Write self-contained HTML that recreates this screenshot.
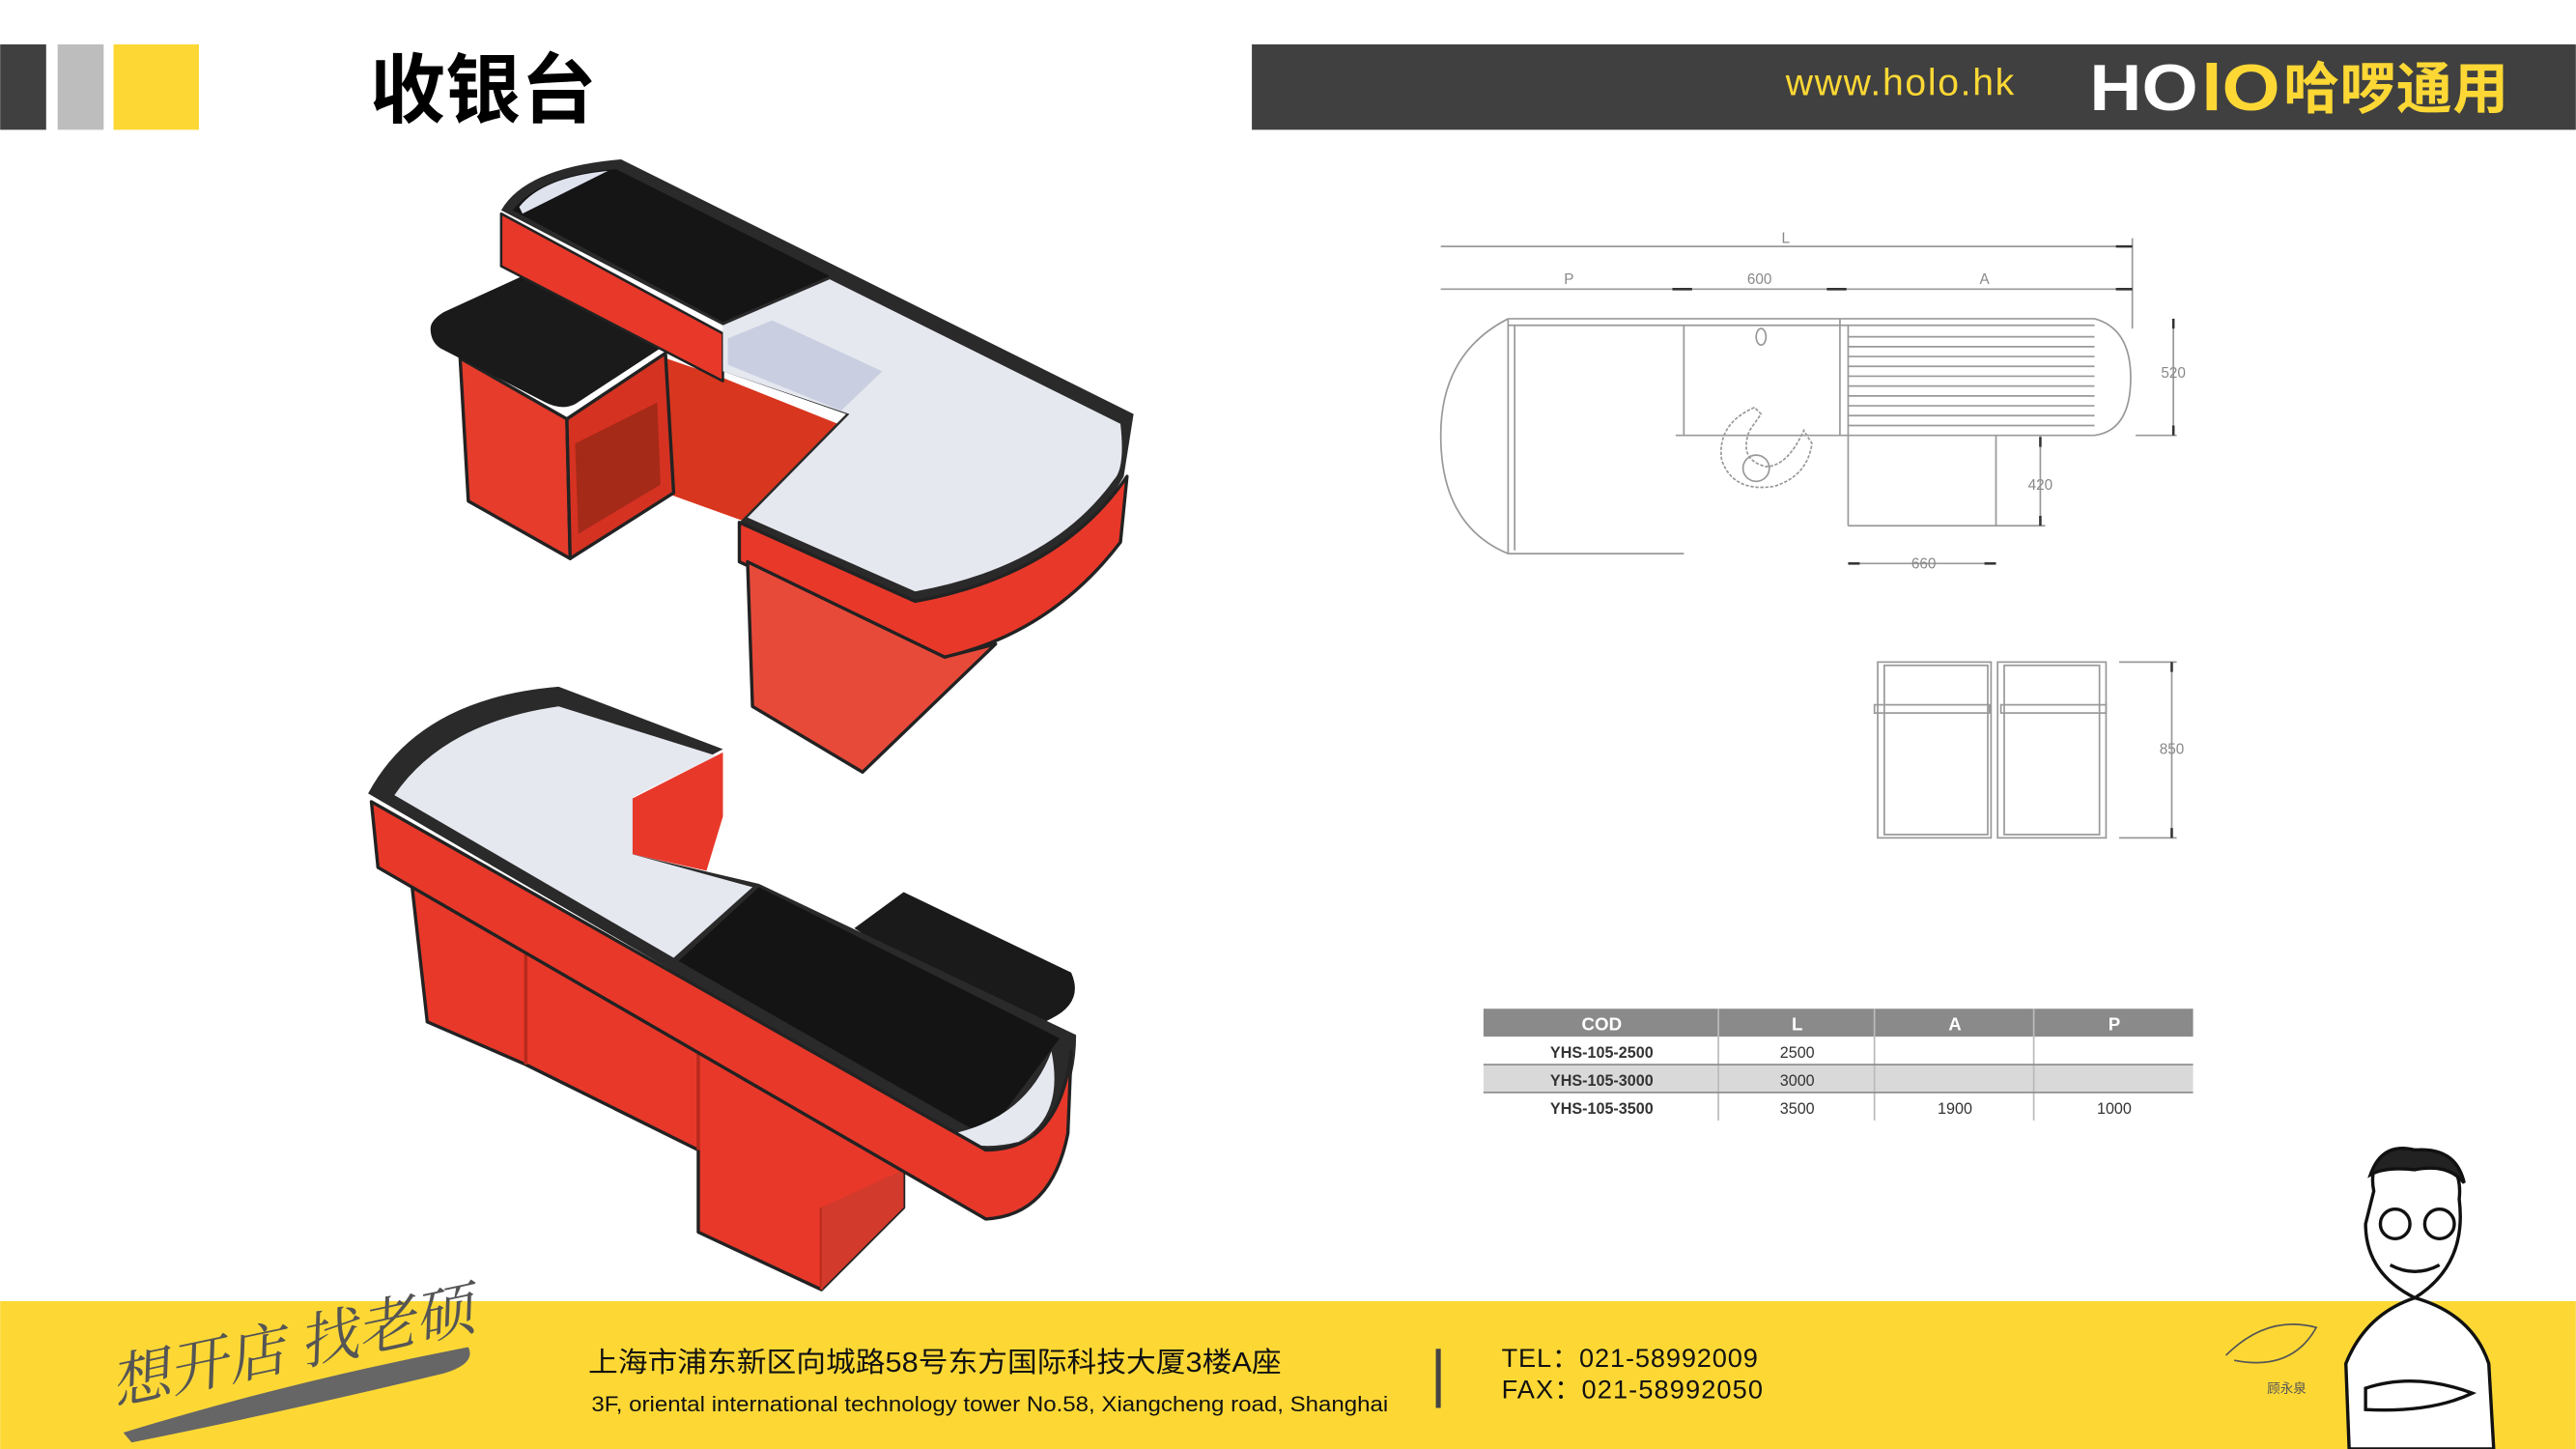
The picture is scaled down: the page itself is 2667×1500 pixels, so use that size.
<!DOCTYPE html>
<html><head><meta charset="utf-8"><style>
html,body{margin:0;padding:0;background:#fff;}
svg{display:block;}
</style></head><body>
<svg width="2667" height="1500" viewBox="0 0 1568 882" xmlns="http://www.w3.org/2000/svg">
<rect width="1568" height="882" fill="#fff"/>
<!-- header -->
<rect x="0" y="27" width="28" height="52" fill="#404040"/>
<rect x="35" y="27" width="28" height="52" fill="#bdbdbd"/>
<rect x="69" y="27" width="52" height="52" fill="#fdd835"/>
<text x="225" y="71" font-family="Liberation Sans, Noto Sans CJK SC, sans-serif" font-size="46" font-weight="bold" fill="#000">收银台</text>
<rect x="762" y="27" width="806" height="52" fill="#404040"/>
<text x="1087" y="58" font-family="Liberation Sans, sans-serif" font-size="23" fill="#fdd835" textLength="139">www.holo.hk</text>
<text x="1272" y="67" font-family="Liberation Sans, sans-serif" font-size="40" font-weight="bold" fill="#fff" textLength="66" lengthAdjust="spacingAndGlyphs">HO</text>
<text x="1340" y="67" font-family="Liberation Sans, sans-serif" font-size="40" font-weight="bold" fill="#fdd835" textLength="48" lengthAdjust="spacingAndGlyphs">lO</text>
<text x="1390" y="66" font-family="Liberation Sans, Noto Sans CJK SC, sans-serif" font-size="34" font-weight="bold" fill="#fdd835" textLength="137">哈啰通用</text>

<!-- top counter -->
<g stroke-linejoin="round">
<path d="M405 218 L440 230 L510 258 L455 318 L405 300 Z" fill="#d8361e"/>
<path d="M280 218 L345 255 L347 340 L285 305 Z" fill="#e53c2c" stroke="#222" stroke-width="2"/>
<path d="M345 255 L405 215 L410 300 L347 340 Z" fill="#d63222" stroke="#222" stroke-width="2"/>
<path d="M350 270 L400 245 L402 295 L352 325 Z" fill="#a52a18"/>
<path d="M262 200 Q262 195 270 190 L318 168 L405 210 L350 246 Q342 250 332 245 L268 212 Q262 208 262 200 Z" fill="#1a1a1a"/>
<path d="M305 130 L440 203 L440 232 L305 162 Z" fill="#e8382a" stroke="#222" stroke-width="1.5"/>
<path d="M305 128 Q320 102 378 97 L690 252 L684 290 Q650 350 557 366 L450 318 L515 252 L440 226 L440 198 Z" fill="#2a2a2a"/>
<path d="M312 128 Q330 106 375 103 L505 168 L440 196 Z" fill="#151515"/>
<path d="M316 126 Q330 108 370 104 L318 130 Z" fill="#dfe3ee"/>
<path d="M440 198 L505 170 L682 258 Q685 285 678 292 Q640 345 557 360 L455 315 L517 252 L440 226 Z" fill="#e6e8f0"/>
<path d="M443 206 L470 195 L537 226 L512 250 L443 222 Z" fill="#c9cfe0"/>
<path d="M450 318 L557 366 Q645 350 686 290 L682 330 Q640 385 575 400 L450 342 Z" fill="#e8382a" stroke="#222" stroke-width="2"/>
<path d="M455 342 L575 400 L606 392 L525 470 L458 430 Z" fill="#e84a3a" stroke="#222" stroke-width="2"/>
</g>

<!-- bottom counter -->
<g stroke-linejoin="round">
<path d="M385 486 L440 458 L440 497 L430 530 L385 520 Z" fill="#e8382a"/>
<path d="M248 515 L550 700 L550 735 L500 785 L425 750 L425 700 L320 648 L260 622 Z" fill="#e8382a" stroke="#222" stroke-width="2"/>
<path d="M320 560 L320 648 M425 620 L425 700 M500 735 L500 785" stroke="#b52a1c" stroke-width="2" fill="none"/>
<path d="M500 735 L550 712 L550 735 L500 785 Z" fill="#d23a2c"/>
<path d="M520 565 L550 543 L652 592 Q660 610 640 620 L620 630 Z" fill="#1a1a1a"/>
<path d="M224 483 Q255 425 340 418 L440 456 L385 485 L385 520 L462 538 L655 630 Q655 690 600 702 Z" fill="#2a2a2a"/>
<path d="M240 484 Q270 440 340 430 L436 460 L385 485 L385 520 L458 540 L410 583 Z" fill="#e6e8f0"/>
<path d="M413 585 L462 540 L645 632 L600 692 Z" fill="#141414"/>
<path d="M580 690 Q625 680 640 640 Q648 680 620 695 Q600 700 585 695 Z" fill="#e6e8f0"/>
<path d="M226 488 L600 700 Q645 700 652 640 L650 690 Q640 740 600 742 L230 528 Z" fill="#e8382a" stroke="#222" stroke-width="2"/>
</g>

<!-- technical drawing -->
<g stroke="#999" stroke-width="1" fill="none">
<line x1="877" y1="150" x2="1298" y2="150"/>
<line x1="1298" y1="145" x2="1298" y2="200"/>
<line x1="877" y1="176" x2="1298" y2="176"/>
<path d="M918 194 L1275 194 Q1297 200 1297 230 Q1297 262 1275 265 L1120 265"/>
<path d="M918 194 Q877 215 877 265 Q877 320 918 337 L1025 337"/>
<line x1="918" y1="194" x2="918" y2="337"/>
<line x1="922" y1="198" x2="922" y2="335"/>
<line x1="918" y1="198" x2="1275" y2="198"/>
<line x1="1025" y1="198" x2="1025" y2="265"/>
<line x1="1020" y1="265" x2="1120" y2="265"/>
<line x1="1120" y1="194" x2="1120" y2="265"/>
<line x1="1125" y1="198" x2="1125" y2="320"/>
<line x1="1215" y1="265" x2="1215" y2="320"/>
<line x1="1125" y1="343" x2="1215" y2="343"/>
<line x1="1323" y1="194" x2="1323" y2="265"/>
<line x1="1300" y1="265" x2="1325" y2="265"/>
<line x1="1242" y1="265" x2="1242" y2="320"/>
<line x1="1125" y1="320" x2="1245" y2="320"/>
<path d="M1125 205 H1275 M1125 211 H1275 M1125 217 H1275 M1125 223 H1275 M1125 229 H1275 M1125 235 H1275 M1125 241 H1275 M1125 247 H1275 M1125 253 H1275 M1125 259 H1275"/>
<ellipse cx="1072" cy="205" rx="3" ry="5"/>
<path d="M1068 248 Q1045 258 1048 280 Q1055 300 1080 296 Q1100 290 1103 270 L1098 262 Q1088 284 1075 284 Q1058 280 1065 262 L1072 252 Z" stroke-dasharray="2 1"/>
<circle cx="1069" cy="285" r="8"/>
<rect x="1143" y="403" width="69" height="107"/>
<rect x="1147" y="405" width="63" height="103"/>
<rect x="1216" y="403" width="66" height="107"/>
<rect x="1220" y="405" width="58" height="103"/>
<rect x="1141" y="429" width="70" height="5"/>
<rect x="1218" y="429" width="64" height="5"/>
<line x1="1322" y1="403" x2="1322" y2="510"/>
<line x1="1290" y1="403" x2="1325" y2="403"/>
<line x1="1290" y1="510" x2="1325" y2="510"/>
</g>
<g stroke="#333" stroke-width="1.5">
<line x1="1018" y1="176" x2="1030" y2="176"/><line x1="1112" y1="176" x2="1124" y2="176"/>
<line x1="1288" y1="150" x2="1298" y2="150"/><line x1="1288" y1="176" x2="1298" y2="176"/>
<line x1="1125" y1="343" x2="1132" y2="343"/><line x1="1208" y1="343" x2="1215" y2="343"/>
<line x1="1323" y1="194" x2="1323" y2="200"/><line x1="1323" y1="259" x2="1323" y2="265"/>
<line x1="1242" y1="266" x2="1242" y2="272"/><line x1="1242" y1="314" x2="1242" y2="320"/>
<line x1="1322" y1="403" x2="1322" y2="409"/><line x1="1322" y1="504" x2="1322" y2="510"/>
</g>
<g font-family="Liberation Sans, sans-serif" font-size="9" fill="#888" text-anchor="middle">
<text x="1087" y="148">L</text><text x="955" y="173">P</text><text x="1071" y="173">600</text><text x="1208" y="173">A</text>
<text x="1323" y="230">520</text><text x="1242" y="298">420</text><text x="1171" y="346">660</text><text x="1322" y="459">850</text>
</g>

<!-- table -->
<rect x="903" y="614" width="432" height="17" fill="#8a8a8a"/>
<rect x="903" y="648" width="432" height="17" fill="#d9d9d9"/>
<g stroke="#bbb" stroke-width="1"><line x1="1046" y1="614" x2="1046" y2="682"/><line x1="1141" y1="614" x2="1141" y2="682"/><line x1="1238" y1="614" x2="1238" y2="682"/><line x1="903" y1="648" x2="1335" y2="648" stroke="#888"/><line x1="903" y1="665" x2="1335" y2="665" stroke="#888"/></g>
<g font-family="Liberation Sans, sans-serif" font-weight="bold" font-size="11" fill="#fff" text-anchor="middle">
<text x="975" y="627">COD</text><text x="1094" y="627">L</text><text x="1190" y="627">A</text><text x="1287" y="627">P</text></g>
<g font-family="Liberation Sans, sans-serif" font-size="9.5" text-anchor="middle" fill="#333">
<text x="975" y="644" font-weight="bold">YHS-105-2500</text><text x="1094" y="644">2500</text>
<text x="975" y="661" font-weight="bold">YHS-105-3000</text><text x="1094" y="661">3000</text>
<text x="975" y="678" font-weight="bold">YHS-105-3500</text><text x="1094" y="678">3500</text><text x="1190" y="678">1900</text><text x="1287" y="678">1000</text></g>

<!-- footer -->
<rect x="0" y="792" width="1568" height="90" fill="#fdd835"/>
<path d="M75 872 Q180 840 285 820 Q290 830 270 836 Q170 860 80 878 Z" fill="#666"/>
<text x="70" y="855" transform="rotate(-12 70 855)" font-family="Liberation Serif, Noto Serif CJK SC, serif" font-size="36" fill="#555" font-style="italic">想开店 找老硕</text>
<text x="358" y="835" font-family="Liberation Sans, Noto Sans CJK SC, sans-serif" font-size="17" fill="#111" textLength="422" lengthAdjust="spacingAndGlyphs">上海市浦东新区向城路58号东方国际科技大厦3楼A座</text>
<text x="360" y="859" font-family="Liberation Sans, sans-serif" font-size="13" fill="#111" textLength="485" lengthAdjust="spacingAndGlyphs">3F, oriental international technology tower No.58, Xiangcheng road, Shanghai</text>
<rect x="874" y="821" width="3" height="36" fill="#444"/>
<text x="914" y="832" font-family="Liberation Sans, sans-serif" font-size="16" fill="#111" textLength="156">TEL：021-58992009</text>
<text x="914" y="851" font-family="Liberation Sans, sans-serif" font-size="16" fill="#111" textLength="159">FAX：021-58992050</text>
<path d="M1355 825 Q1380 800 1410 808 Q1395 835 1360 828" fill="none" stroke="#555" stroke-width="1"/>
<text x="1380" y="848" font-family="Noto Sans CJK SC, sans-serif" font-size="8" fill="#555">顾永泉</text>
<!-- cartoon -->
<g stroke="#111" stroke-width="2" fill="#fff">
<path d="M1430 882 L1428 830 Q1440 800 1470 790 Q1505 800 1515 830 L1518 882 Z"/>
<path d="M1445 725 Q1440 700 1470 700 Q1500 702 1497 730 Q1502 770 1470 790 Q1440 775 1440 745 Z"/>
<path d="M1443 715 Q1450 695 1470 700 Q1495 698 1500 720 Q1490 708 1470 712 Q1452 710 1443 715 Z" fill="#222"/>
<circle cx="1458" cy="745" r="9" fill="none"/><circle cx="1485" cy="745" r="9" fill="none"/>
<path d="M1455 770 Q1470 778 1485 770" fill="none"/>
<path d="M1440 845 Q1470 835 1505 848 Q1480 860 1440 858 Z"/>
</g>
</svg>
</body></html>
